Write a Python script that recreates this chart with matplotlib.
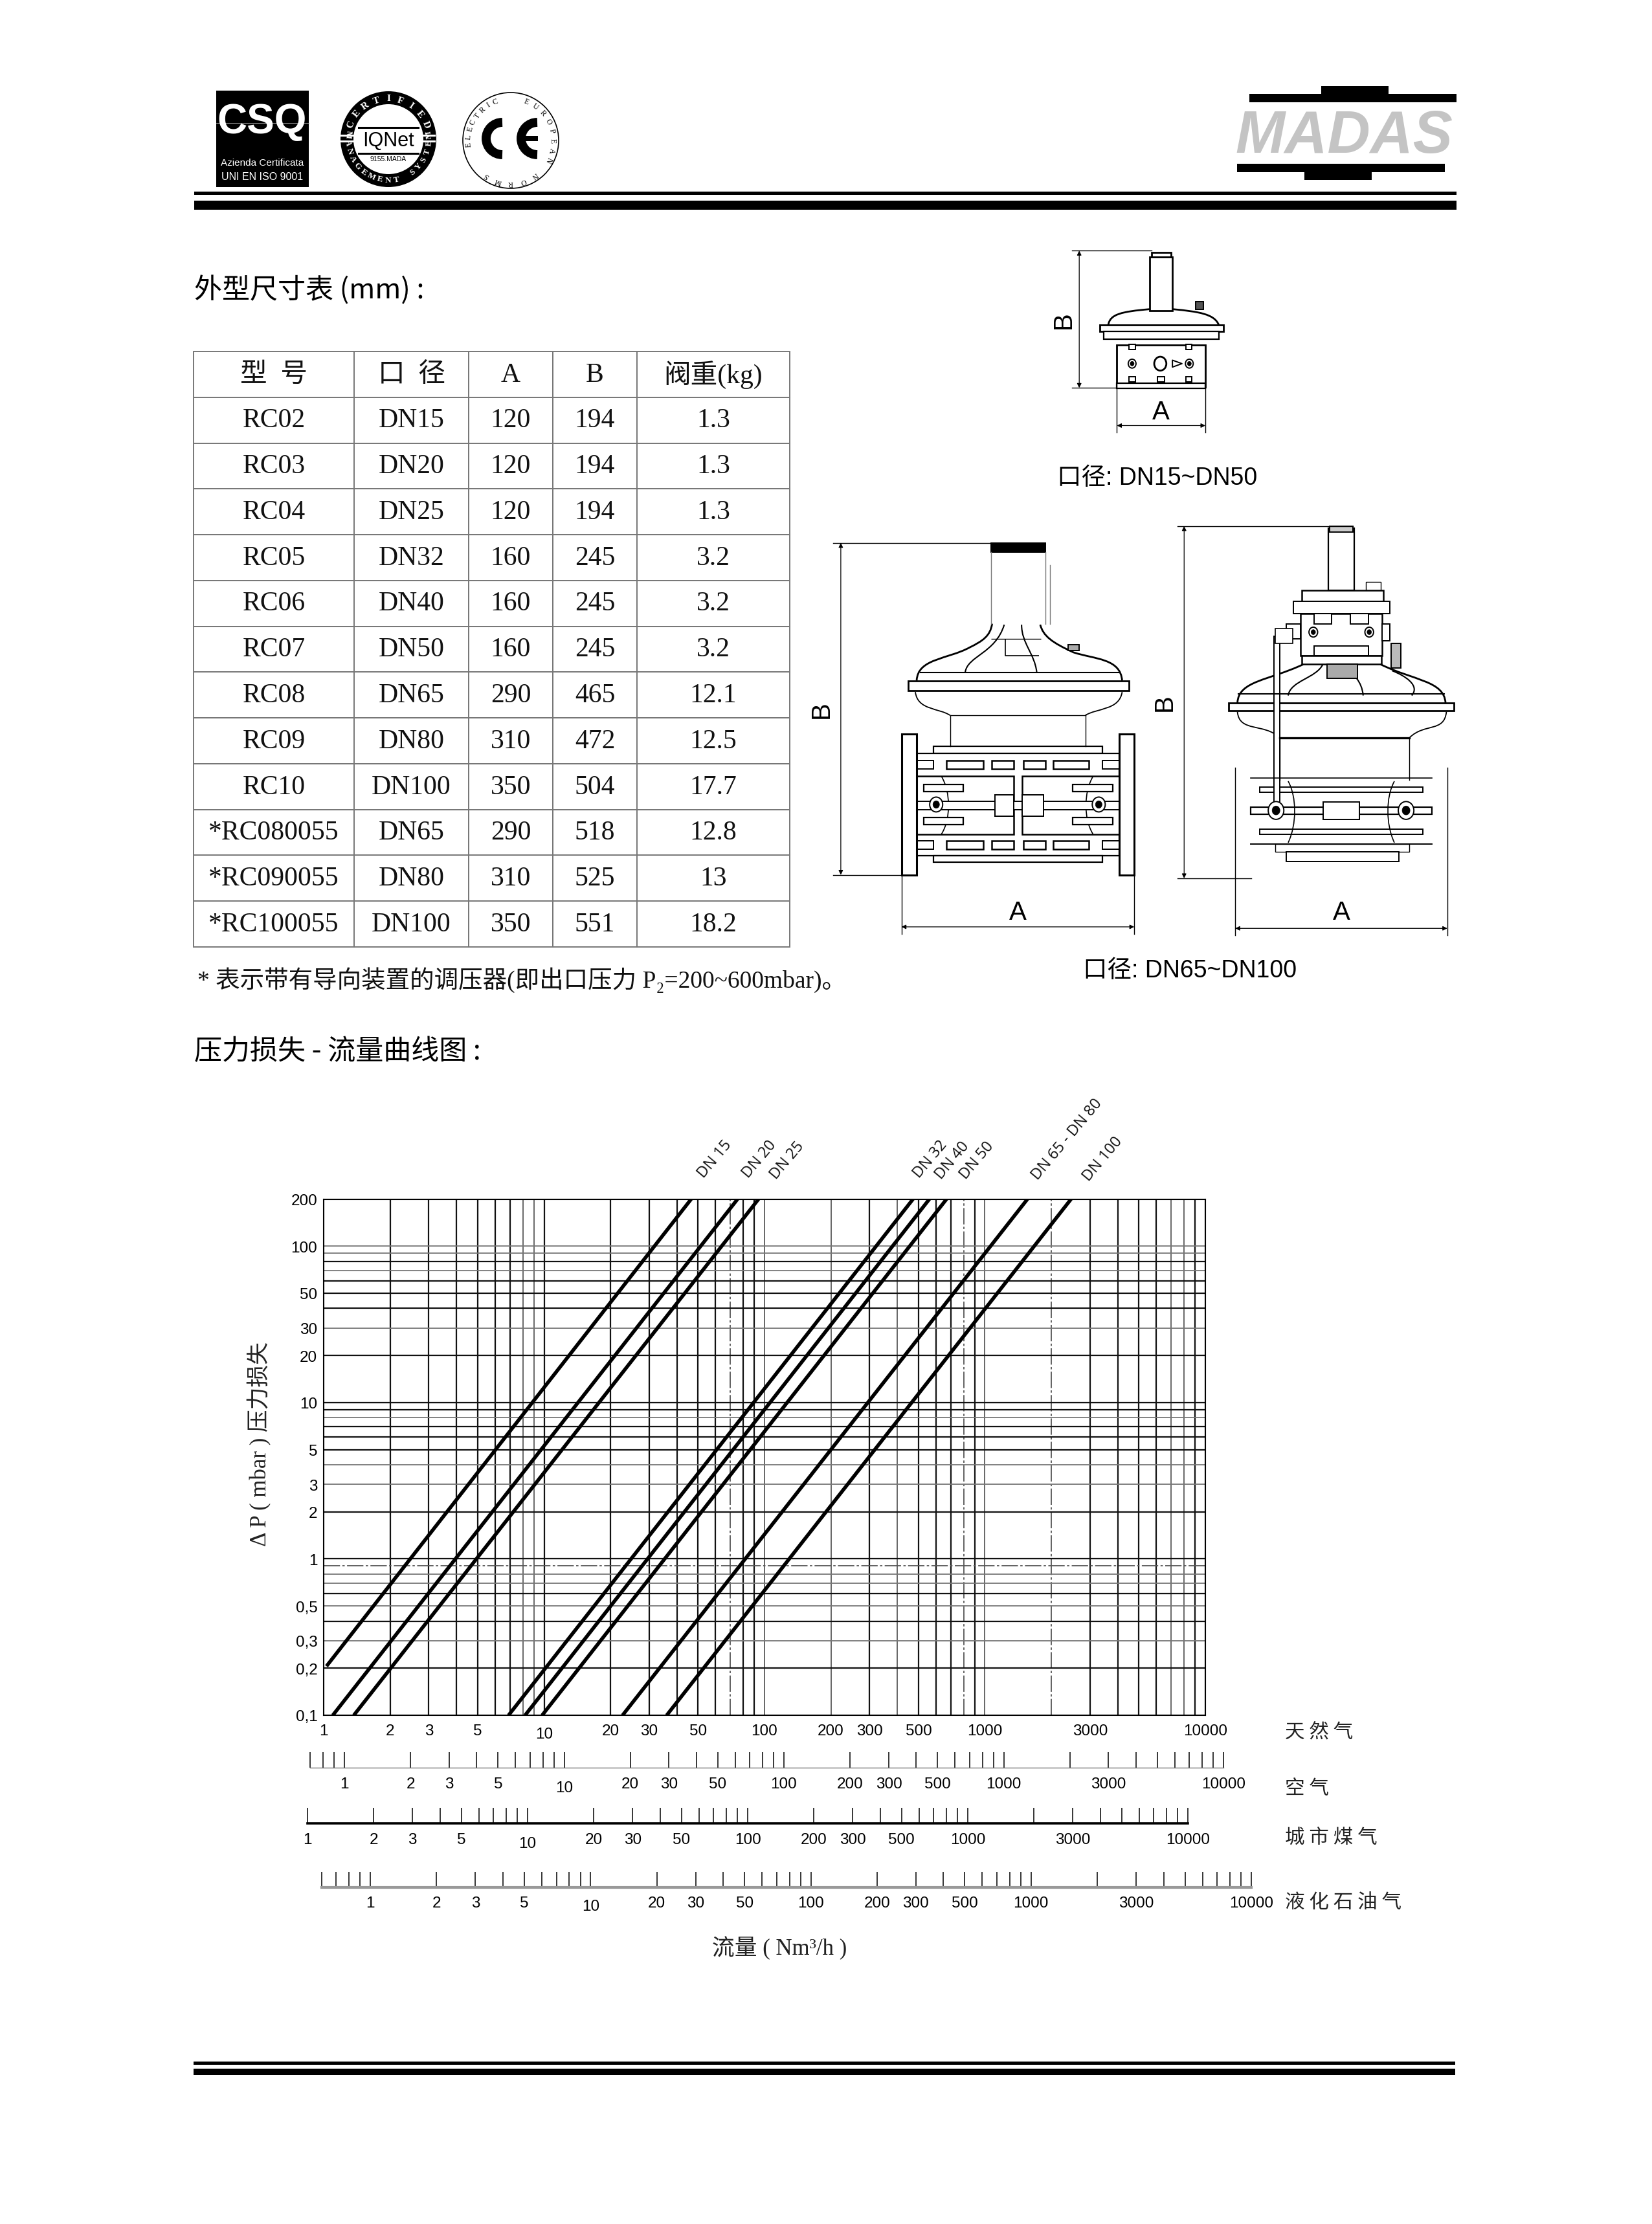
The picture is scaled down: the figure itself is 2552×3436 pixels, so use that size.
import math
import matplotlib
matplotlib.use('Agg')
import matplotlib.pyplot as plt
from matplotlib.patches import Rectangle, Circle, Polygon, Arc, PathPatch
from matplotlib.path import Path

W, H = 2552, 3437
SANS = ['Liberation Sans', 'Noto Sans CJK SC', 'DejaVu Sans']
SERIF = ['Liberation Serif', 'Noto Sans CJK SC', 'DejaVu Sans']
CJK = ['Noto Sans CJK SC', 'Liberation Sans', 'DejaVu Sans']

# table
table_head = ['型  号', '口  径', 'A', 'B', '阀重(kg)']
models = ['RC02', 'RC03', 'RC04', 'RC05', 'RC06', 'RC07', 'RC08', 'RC09', 'RC10',
          '*RC080055', '*RC090055', '*RC100055']
bores = ['DN15', 'DN20', 'DN25', 'DN32', 'DN40', 'DN50', 'DN65', 'DN80', 'DN100',
         'DN65', 'DN80', 'DN100']
dim_a = [120, 120, 120, 160, 160, 160, 290, 310, 350, 290, 310, 350]
dim_b = [194, 194, 194, 245, 245, 245, 465, 472, 504, 518, 525, 551]
weights = ['1.3', '1.3', '1.3', '3.2', '3.2', '3.2', '12.1', '12.5', '17.7', '12.8', '13', '18.2']

# curves: flow at the low end, pressure at the low end, flow at 200 mbar
curve_names = ['DN 15', 'DN 20', 'DN 25', 'DN 32', 'DN 40', 'DN 50', 'DN 65 - DN 80', 'DN 100']
flow_low = [1.03, 1.10, 1.37, 6.9, 8.2, 9.8, 22.7, 36.0]
dp_low = [0.206, 0.1, 0.1, 0.1, 0.1, 0.1, 0.1, 0.1]
flow_high = [46.5, 75.5, 94.0, 472, 560, 670, 1560, 2460]
dp_high = [200, 200, 200, 200, 200, 200, 200, 200]

# grid lines of the chart, sorted by how they were printed
x_dark = [2, 3, 4, 5, 6, 7, 10, 20, 30, 40, 50, 60, 80, 90, 300, 500, 600, 700, 900, 3000, 4000,
          5000, 6000, 9000]
x_light = [8, 9, 100, 200, 400, 1000, 7000, 8000]
x_dash = [70, 800, 2000]
y_dark = [0.2, 0.4, 0.6, 1, 2, 5, 6, 7, 9, 10, 20, 40, 50, 60, 80]
y_light = [0.3, 0.5, 0.7, 0.8, 3, 4, 8, 30, 70, 90, 100]
y_dash = [0.9]

y_ticks = [0.1, 0.2, 0.3, 0.5, 1, 2, 3, 5, 10, 20, 30, 50, 100, 200]
y_tick_labels = ['0,1', '0,2', '0,3', '0,5', '1', '2', '3', '5', '10', '20', '30', '50', '100', '200']
flow_ticks = [1, 2, 3, 5, 10, 20, 30, 50, 100, 200, 300, 500, 1000, 3000, 10000]
log_steps = [1, 2, 3, 4, 5, 6, 7, 8, 9]
decades = [1, 10, 100, 1000]
air_extra = [0.7, 0.8, 0.9]
lpg_extra = [0.6, 0.7, 0.8, 0.9]


def px_axes(x0, y0, x1, y1, **kw):
    return fig.add_axes([x0 / W, 1 - y1 / H, (x1 - x0) / W, (y1 - y0) / H], **kw)


fig = plt.figure(figsize=(W / 100, H / 100), dpi=100, facecolor='white')

# page in pixel coordinates
page = px_axes(0, 0, W, H)
page.set_xlim(0, W)
page.set_ylim(H, 0)
page.axis('off')

for x0, x1, y0, y1 in [(300, 2250, 297, 302), (300, 2250, 311, 325),
                       (299, 2248, 3186, 3191), (299, 2248, 3197, 3207)]:
    page.add_patch(Rectangle((x0, y0), x1 - x0, y1 - y0, color='k', lw=0))


def ring_text(cx, cy, r, s, start, step, color, size, flip=False, **kw):
    # letters set around a circle, angle 0 is straight up and runs clockwise
    for i, ch in enumerate(s):
        a = start + i * step
        x = cx + r * math.sin(math.radians(a))
        y = cy - r * math.cos(math.radians(a))
        rot = 180 - a if flip else -a
        page.text(x, y, ch, color=color, fontsize=size, rotation=rot, ha='center', va='center',
                  family=SERIF, **kw)


# logos
page.add_patch(Rectangle((334, 141), 143, 149, color='k', lw=0))
page.text(405, 189, 'CSQ', color='w', fontsize=46, fontweight='bold', family=SANS, ha='center', va='center')
page.plot([334, 477], [191, 191], color='#aaaaaa', lw=0.6)
page.text(405, 252, 'Azienda Certificata', color='w', fontsize=11, family=SANS, ha='center', va='center')
page.text(405, 273, 'UNI EN ISO 9001', color='w', fontsize=11.5, family=SANS, ha='center', va='center')

page.add_patch(Circle((600, 216), 74, color='k', lw=0))
page.add_patch(Circle((600, 216), 54, color='w', lw=0))
page.add_patch(Rectangle((526, 209), 147, 3, color='w', lw=0))
page.add_patch(Rectangle((526, 218), 147, 3, color='w', lw=0))
page.add_patch(Rectangle((552, 199), 96, 40, color='w', lw=0))
page.plot([554, 646], [198, 198], color='k', lw=2.2)
page.plot([554, 646], [238, 238], color='k', lw=2.2)
page.text(600, 218, 'IQNet', fontsize=22, family=SANS, ha='center', va='center')
page.text(600, 246, '9155.MADA', fontsize=7.5, family=SANS, ha='center', va='center')
ring_text(600, 216, 63, 'CERTIFIED', -68, 17, 'w', 11, fontweight='bold')
ring_text(600, 216, 63, 'MANAGEMENT SYSTEM', 278, -12.2, 'w', 9.5, flip=True, fontweight='bold')

page.add_patch(Circle((789, 218), 74, fc='w', ec='k', lw=1.2))
page.add_patch(Arc((776, 215), 50, 50, theta1=90, theta2=270, lw=10, color='k', capstyle='butt'))
page.add_patch(Arc((830, 215), 50, 50, theta1=90, theta2=270, lw=10, color='k', capstyle='butt'))
page.add_patch(Rectangle((805, 211), 26, 8, color='k', lw=0))
ring_text(789, 218, 65, 'ELECTRIC', -95, 10.5, 'k', 8.5)
ring_text(789, 218, 65, 'EUROPEAN', 22, 13.5, 'k', 8.5)
ring_text(789, 218, 65, 'NORMS', 145, 17.5, 'k', 8.5)

page.add_patch(Rectangle((1930, 146), 320, 13, color='k', lw=0))
page.add_patch(Rectangle((2041, 134), 104, 12, color='k', lw=0))
page.add_patch(Rectangle((1911, 254), 321, 13, color='k', lw=0))
page.add_patch(Rectangle((2015, 267), 104, 12, color='k', lw=0))
page.text(2076, 212, 'MADAS', color='#c4c4c4', fontsize=66, fontweight='bold', fontstyle='italic',
          family=SANS, ha='center', va='center')

# headings
page.text(300, 449, '外型尺寸表 (mm) :', fontsize=31, family=CJK, va='center')
page.text(300, 1625, '压力损失 - 流量曲线图 :', fontsize=31, family=CJK, va='center', fontweight='medium')
page.text(305, 1514, '* 表示带有导向装置的调压器(即出口压力 P₂=200~600mbar)。', fontsize=27,
          family=SERIF, va='center', color='#111111')

# size table
tax = px_axes(299, 544, 1220, 1464)
tax.axis('off')
rows = [[m, b, str(a), str(h), k] for m, b, a, h, k in zip(models, bores, dim_a, dim_b, weights)]
col_w = [248 / 921, 177 / 921, 130 / 921, 130 / 921, 236 / 921]
tab = tax.table(cellText=rows, colLabels=table_head, colWidths=col_w, cellLoc='center', bbox=[0, 0, 1, 1])
tab.auto_set_font_size(False)
for cell in tab.get_celld().values():
    cell.set_edgecolor('#777777')
    cell.set_linewidth(1.4)
    cell.get_text().set_fontsize(30)
    cell.get_text().set_family(SERIF)
    cell.get_text().set_color('#111111')

# drawings, coordinates of this panel run 0..1568 both ways
dr = px_axes(1250, 360, 2300, 1560)
dr.set_xlim(0, 1568)
dr.set_ylim(1568, 0)
dr.axis('off')


def poly(pts, lw=1.4, color='k', closed=False, fc='none'):
    dr.add_patch(Polygon(pts, closed=closed, fc=fc, ec=color, lw=lw, joinstyle='round'))


def curve(pts, lw=1.6):
    # pts: start point, then three points for each bezier piece
    codes = [Path.MOVETO] + [Path.CURVE4] * (len(pts) - 1)
    dr.add_patch(PathPatch(Path(pts, codes), fc='none', ec='k', lw=lw))


def box(x0, y0, x1, y1, lw=1.4, fc='white', ec='k'):
    dr.add_patch(Rectangle((x0, y0), x1 - x0, y1 - y0, fc=fc, ec=ec, lw=lw))


def bolt(x, y, r):
    dr.add_patch(Circle((x, y), r, fc='white', ec='k', lw=1.4, zorder=4))
    dr.add_patch(Circle((x, y), r * 0.5, fc='k', ec='k', lw=0.5, zorder=5))


def dim_v(x, y0, y1, x_ext, label_x, ext0, ext1):
    dr.plot([x_ext, ext0], [y0, y0], color='k', lw=1)
    dr.plot([x_ext, ext1], [y1, y1], color='k', lw=1)
    dr.annotate('', (x, y0), (x, y1), arrowprops=dict(arrowstyle='<|-|>', color='k', lw=0.9, shrinkA=0, shrinkB=0))
    dr.text(label_x, (y0 + y1) / 2, 'B', rotation=90, fontsize=29, family=SANS, ha='center', va='center')


def dim_h(x0, x1, y, y_ext, label_y):
    dr.plot([x0, x0], [y_ext, y + 14], color='k', lw=1)
    dr.plot([x1, x1], [y_ext, y + 14], color='k', lw=1)
    dr.annotate('', (x0, y), (x1, y), arrowprops=dict(arrowstyle='<|-|>', color='k', lw=0.9, shrinkA=0, shrinkB=0))
    dr.text((x0 + x1) / 2, label_y, 'A', fontsize=29, family=SANS, ha='center', va='center')


# small regulator
dim_v(623, 37, 314, 607, 586, 790, 710)
dim_h(710, 914, 390, 228, 362)
box(786, 50, 838, 158, lw=2)
box(790, 40, 835, 50, lw=2)
curve([(690, 187), (694, 165), (720, 160), (786, 155)], lw=2)
curve([(838, 155), (900, 160), (935, 165), (945, 187)], lw=2)
box(670, 187, 955, 200, lw=2)
box(680, 200, 945, 215, lw=1.6)
box(710, 228, 914, 312, lw=2)
box(710, 304, 914, 315, lw=1.6)
dr.add_patch(Circle((810, 265), 14, fc='white', ec='k', lw=2))
bolt(745, 265, 9)
bolt(877, 265, 9)
for bx in (745, 876):
    box(bx - 7, 226, bx + 7, 236)
    box(bx - 7, 291, bx + 7, 302)
box(803, 291, 820, 302)
box(892, 140, 910, 156, fc='#555555')
poly([(838, 258), (860, 265), (838, 272)], closed=True)

# big regulator, side view
dim_v(73, 627, 1297, 55, 28, 420, 215)
dim_h(213, 750, 1402, 1020, 1372)
box(420, 627, 545, 645, fc='k')
dr.plot([420, 420], [645, 790], color='#777777', lw=1)
dr.plot([545, 545], [645, 790], color='#777777', lw=1)
dr.plot([555, 555], [672, 790], color='#777777', lw=1)
curve([(248, 905), (250, 860), (320, 862), (370, 838), (400, 825), (418, 815), (422, 790)], lw=2)
curve([(533, 792), (540, 815), (560, 828), (610, 848), (660, 862), (718, 860), (722, 905)], lw=2)
curve([(360, 888), (365, 855), (430, 850), (450, 792)], lw=1.5)
curve([(490, 792), (490, 830), (520, 850), (525, 888)], lw=1.5)
poly([(452, 820), (452, 855), (530, 855)], lw=1.2)
poly([(420, 820), (535, 820)], lw=1)
poly([(255, 888), (715, 888)], lw=1.5)
box(598, 832, 622, 844, fc='#aaaaaa')
box(228, 905, 737, 925, lw=2)
curve([(245, 928), (250, 965), (300, 960), (325, 975)], lw=1.3)
curve([(637, 975), (665, 960), (715, 965), (722, 928)], lw=1.3)
dr.plot([325, 637], [975, 975], color='k', lw=1)
dr.plot([325, 325], [975, 1037], color='k', lw=1)
dr.plot([637, 637], [975, 1037], color='k', lw=1)
box(287, 1037, 677, 1052, lw=1.6)
box(248, 1052, 715, 1258, lw=1.6)
for sy0, sy1 in [(1066, 1083), (1228, 1245)]:
    for sx0, sx1 in [(317, 402), (421, 472), (495, 545), (563, 645)]:
        box(sx0, sy0, sx1, sy1, lw=1.8)
    box(248, sy0, 287, sy1)
    box(677, sy0, 715, sy1)
box(248, 1098, 472, 1215, lw=1.8)
box(492, 1098, 715, 1215, lw=1.8)
for cx, sgn in [(305, 1), (655, -1)]:
    curve([(cx, 1098), (cx + 22 * sgn, 1130), (cx + 22 * sgn, 1185), (cx, 1215)], lw=1.2)
for sy in (1122, 1188):
    for sx0, sx1 in [(265, 355), (608, 700)]:
        dr.add_patch(Rectangle((sx0, sy - 7), sx1 - sx0, 14, fc='white', ec='k', lw=1.6, zorder=3))
box(248, 1148, 715, 1165, lw=1.4)
box(428, 1135, 472, 1178)
box(492, 1135, 540, 1178)
bolt(293, 1155, 15)
bolt(668, 1155, 15)
box(287, 1258, 677, 1272, lw=1.6)
box(213, 1013, 248, 1297, lw=2.2)
box(715, 1013, 750, 1297, lw=2.2)

# big regulator, front view
dim_v(865, 593, 1304, 850, 820, 1255, 1020)
dim_h(983, 1472, 1405, 1080, 1372)
box(1197, 597, 1258, 722, lw=1.6)
box(1200, 593, 1255, 605, lw=1.4, fc='#cccccc')
box(1285, 705, 1318, 722, lw=1)
box(1137, 722, 1325, 745, lw=1.8)
box(1117, 745, 1340, 770, lw=1.4)
box(1133, 770, 1322, 855, lw=1.8)
box(1165, 770, 1205, 790)
box(1248, 770, 1290, 790)
box(1165, 835, 1290, 855)
bolt(1163, 807, 10)
bolt(1292, 807, 10)
box(1137, 855, 1320, 872, lw=1.8)
box(1322, 790, 1340, 825)
box(1100, 790, 1133, 820)
box(1342, 830, 1365, 880, lw=1.4, fc='#bbbbbb')
curve([(988, 950), (990, 905), (1060, 905), (1140, 872)], lw=2)
curve([(1318, 872), (1395, 905), (1465, 905), (1468, 950)], lw=2)
curve([(1105, 935), (1110, 905), (1170, 900), (1185, 872)], lw=1.5)
curve([(1240, 872), (1255, 895), (1275, 905), (1278, 935)], lw=1.5)
curve([(1390, 935), (1410, 915), (1375, 895), (1345, 885)], lw=1.5)
box(1195, 872, 1265, 900, lw=1.4, fc='#aaaaaa')
dr.plot([990, 1465], [932, 932], color='k', lw=1.5)
box(968, 950, 1488, 965, lw=2)
curve([(988, 968), (992, 1010), (1050, 990), (1085, 1020)], lw=1.3)
curve([(1385, 1020), (1420, 990), (1465, 1010), (1470, 968)], lw=1.3)
dr.plot([1085, 1385], [1021, 1021], color='k', lw=2.4)
dr.plot([1085, 1085], [1020, 1105], color='k', lw=1)
dr.plot([1385, 1385], [1020, 1105], color='k', lw=1)
dr.plot([1018, 1437], [1102, 1102], color='k', lw=1.2)
box(1040, 1120, 1415, 1130, lw=1.4)
box(1040, 1205, 1415, 1215, lw=1.4)
box(1018, 1160, 1437, 1175, lw=1.6)
box(1185, 1150, 1270, 1185, lw=1.4)
dr.plot([1018, 1437], [1235, 1235], color='k', lw=1.4)
box(1075, 1235, 1385, 1250, lw=1)
box(1100, 1250, 1360, 1270, lw=1.4)
for cx, sgn in [(1105, 1), (1350, -1)]:
    curve([(cx, 1108), (cx + 20 * sgn, 1140), (cx + 20 * sgn, 1195), (cx, 1232)], lw=1.2)
box(1072, 815, 1085, 1155, lw=1.4)
box(1075, 800, 1115, 830, lw=1.2)
bolt(1077, 1167, 18)
bolt(1377, 1167, 18)

dr.text(803, 495, '口径: DN15~DN50', fontsize=27, family=SANS, ha='center', va='center')
dr.text(878, 1490, '口径: DN65~DN100', fontsize=27, family=SANS, ha='center', va='center')

# main chart
ax = px_axes(500, 1853.5, 1862, 2651)
ax.set_xscale('log')
ax.set_yscale('log')
ax.set_xlim(1, 10000)
ax.set_ylim(0.1, 200)
for v in x_dark:
    ax.axvline(v, color='#111111', lw=1.6, zorder=1)
for v in x_light:
    ax.axvline(v, color='#666666', lw=1.4, zorder=1)
for v in x_dash:
    ax.axvline(v, color='#555555', lw=1.3, ls=(0, (14, 2, 2, 2)), zorder=1)
for v in y_dark:
    ax.axhline(v, color='#111111', lw=1.6, zorder=1)
for v in y_light:
    ax.axhline(v, color='#777777', lw=1.3, zorder=1)
for v in y_dash:
    ax.axhline(v, color='#555555', lw=1.3, ls=(0, (14, 2, 2, 2)), zorder=1)
for fl, dl, fh, dh in zip(flow_low, dp_low, flow_high, dp_high):
    ax.plot([fl, fh], [dl, dh], color='k', lw=4, solid_capstyle='butt', zorder=3)
for sp in ax.spines.values():
    sp.set_linewidth(1.5)
ax.minorticks_off()
ax.set_yticks(y_ticks)
ax.set_yticklabels(y_tick_labels, family=SANS, fontsize=17.5)
ax.tick_params(axis='y', which='both', length=0, pad=7)
ax.tick_params(axis='x', which='both', length=0, labelbottom=False)
for v in flow_ticks:
    off = -21 if v == 10 else -17
    ax.annotate(str(v), (v, 0), xycoords=('data', 'axes fraction'), xytext=(0, off), textcoords='offset points',
                ha='center', va='center', fontsize=17.5, family=SANS)

# curve labels, anchored above the frame
label_px = [1092, 1161, 1204, 1425, 1459, 1497, 1608, 1687]
label_py = [1825, 1825, 1827, 1825, 1827, 1827, 1828, 1830]
for name, lx, ly in zip(curve_names, label_px, label_py):
    page.text(lx, ly, name, rotation=50, rotation_mode='anchor', ha='left', va='bottom', fontsize=17,
              family=['Open Sans', 'DejaVu Sans'], color='#111111')

page.text(401, 2231, 'Δ P ( mbar ) 压力损失', rotation=90, fontsize=25, family=SERIF, ha='center', va='center',
          color='#222222')


# extra flow scales, each one its own log axis
def flow_scale(x1, x10000, base_y, extra, line_w, line_c, label_gap):
    px_decade = (x10000 - x1) / 4.0
    lo = min(extra) if extra else 1
    left = x1 + math.log10(lo) * px_decade
    sc = px_axes(left, base_y - 24, x10000, base_y)
    sc.set_xscale('log')
    sc.set_xlim(lo, 10000)
    sc.set_ylim(0, 1)
    sc.patch.set_alpha(0)
    for s in ('top', 'left', 'right'):
        sc.spines[s].set_visible(False)
    sc.spines['bottom'].set_linewidth(line_w)
    sc.spines['bottom'].set_color(line_c)
    sc.set_yticks([])
    marks = list(extra) + [d * s for d in decades for s in log_steps] + [10000]
    sc.set_xticks(marks)
    sc.xaxis.set_ticks_position('bottom')
    sc.tick_params(axis='x', which='both', direction='in', length=17.3, width=1.1, labelbottom=False)
    sc.minorticks_off()
    for v in flow_ticks:
        off = label_gap - 4 if v == 10 else label_gap
        sc.annotate(str(v), (v, 0), xycoords=('data', 'axes fraction'), xytext=(0, off), textcoords='offset points',
                    ha='center', va='center', fontsize=17.5, family=SANS, annotation_clip=False)


flow_scale(532, 1890, 2732, air_extra, 1.0, '#777777', -18)
flow_scale(475, 1835, 2818, [], 2.6, 'k', -18)
flow_scale(572, 1933, 2917, lpg_extra, 3.0, '#999999', -17)

# gas names
for name, x, y in [('天 然 气', 1985, 2677), ('空 气', 1985, 2764), ('城 市 煤 气', 1985, 2840),
                   ('液 化 石 油 气', 1985, 2939)]:
    page.text(x, y, name, fontsize=22, family=CJK, va='center', color='#222222')
page.text(1204, 3010, '流量 ( Nm³/h )', fontsize=25, family=SERIF, ha='center', va='center', color='#222222')

fig.savefig('out.png', dpi=100)
